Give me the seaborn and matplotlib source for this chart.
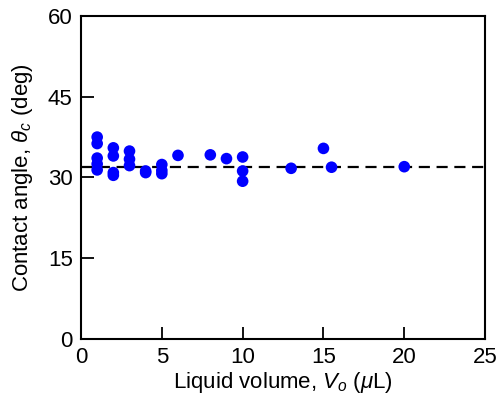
import numpy as np
import pandas as pd
import matplotlib
matplotlib.use("Agg")
import matplotlib.pyplot as plt
import seaborn as sns

# Contact angle vs liquid volume
volume = [1, 1, 1, 1, 1,
          2, 2, 2, 2,
          3, 3, 3,
          4, 4,
          5, 5, 5,
          6, 8, 9,
          10, 10, 10,
          13, 15, 15.5, 20]
angle = [37.5, 36.3, 33.6, 32.5, 31.4,
         35.5, 34.0, 30.9, 30.4,
         34.9, 33.4, 32.2,
         31.2, 30.9,
         32.4, 31.3, 30.7,
         34.1, 34.2, 33.5,
         33.8, 31.2, 29.3,
         31.7, 35.4, 31.9, 32.0]
mean_angle = 32.0

df = pd.DataFrame({"volume": volume, "angle": angle})

sns.set_style("ticks")
plt.rcParams["font.family"] = ["Liberation Sans", "DejaVu Sans"]
plt.rcParams["mathtext.fontset"] = "custom"
plt.rcParams["mathtext.rm"] = "Liberation Sans"
plt.rcParams["mathtext.it"] = "Liberation Sans:italic"
plt.rcParams["text.color"] = "black"
plt.rcParams["axes.labelcolor"] = "black"
plt.rcParams["xtick.color"] = "black"
plt.rcParams["ytick.color"] = "black"

fig = plt.figure(figsize=(4.97, 4.01), dpi=100)
ax = fig.add_axes([0.163, 0.155, 0.813, 0.805])

ax.axhline(mean_angle, color="black", lw=1.6, ls=(0, (5, 3)), zorder=1)
sns.scatterplot(data=df, x="volume", y="angle", ax=ax, color="#0000ff",
                s=70, edgecolor="none", zorder=3)

ax.set_xlim(0, 25)
ax.set_ylim(0, 60)
ax.set_xticks([0, 5, 10, 15, 20, 25])
ax.set_yticks([0, 15, 30, 45, 60])
ax.tick_params(direction="in", length=9, width=1.3, labelsize=16, pad=6)
for sp in ax.spines.values():
    sp.set_linewidth(1.5)
    sp.set_color("black")

ax.set_xlabel(r"Liquid volume, $V_o$ ($\mu$L)", fontsize=16, labelpad=1)
ax.set_ylabel(r"Contact angle, $\theta_c$ (deg)", fontsize=16, labelpad=9)

fig.savefig("out.png", dpi=100)
